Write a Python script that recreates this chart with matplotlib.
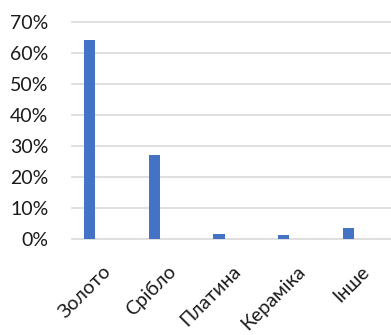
import matplotlib.pyplot as plt
from matplotlib.ticker import PercentFormatter
from matplotlib.transforms import ScaledTranslation

# categories and shares
categories = ["Золото", "Срібло", "Платина", "Кераміка", "Інше"]
shares = [0.643, 0.271, 0.016, 0.013, 0.035]
y_ticks = [0.0, 0.1, 0.2, 0.3, 0.4, 0.5, 0.6, 0.7]

plt.rcParams["font.family"] = ["Lato", "DejaVu Sans"]

fig = plt.figure(figsize=(3.91, 3.35), dpi=100)
ax = fig.add_axes([72 / 391, 1 - 239 / 335, 1 - 72 / 391, (239 - 22.3) / 335])

x = range(len(categories))
ax.bar(x, shares, width=0.175, color="#4472C4", zorder=3)

ax.set_xlim(-0.274, 4.66)
ax.set_ylim(0, 0.7)
ax.set_yticks(y_ticks)
ax.yaxis.set_major_formatter(PercentFormatter(1.0, decimals=0))
ax.grid(axis="y", color="#d9d9d9", linewidth=1.2, zorder=0)
for gl in ax.get_ygridlines():
    gl.set_clip_on(False)

# category labels, Excel-style: rotated and shifted right/down from the tick
ax.set_xticks(list(x))
ax.set_xticklabels([])
shift = ScaledTranslation(0.185, -0.295, fig.dpi_scale_trans)
for i, cat in enumerate(categories):
    ax.text(i, 0, cat, transform=ax.get_xaxis_transform() + shift,
            rotation=45, ha="right", va="center", rotation_mode="anchor",
            fontsize=14, color="#1a1a1a")

for spine in ax.spines.values():
    spine.set_visible(False)

ax.tick_params(axis="y", length=0, pad=17, labelsize=14, labelcolor="#1a1a1a")
ax.tick_params(axis="x", length=0)

fig.savefig("out.png", dpi=100)
